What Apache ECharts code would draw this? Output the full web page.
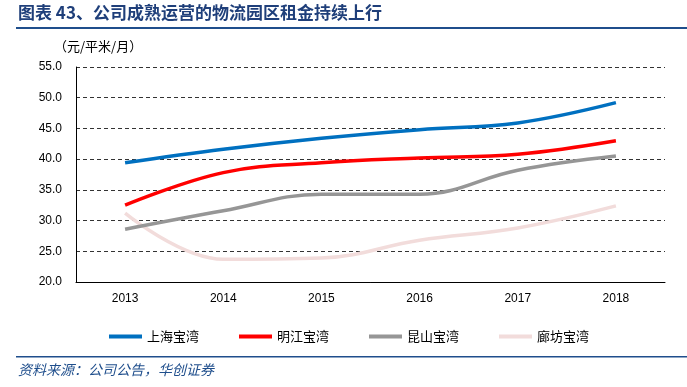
<!DOCTYPE html>
<html><head><meta charset="utf-8">
<script src="https://cdn.jsdelivr.net/npm/echarts@6/dist/echarts.min.js"></script>
<style>html,body{margin:0;padding:0;background:#fff}#c{width:687px;height:387px}</style>
</head><body><div id="c"></div>
<script>
var categories = ['2013','2014','2015','2016','2017','2018'];
var shanghai = [39.4, 41.6, 43.4, 44.8, 45.9, 49.2];
var mingjiang = [32.5, 37.8, 39.4, 40.2, 40.8, 43.0];
var kunshan = [28.6, 31.6, 34.3, 34.3, 38.2, 40.5];
var langfang = [31.2, 23.7, 23.9, 26.8, 28.8, 32.4];
var seriesNames = ['上海宝湾','明江宝湾','昆山宝湾','廊坊宝湾'];
var colors = ['#0070C0','#FF0000','#969696','#F2DCDB'];
var yTicks = {min:20, max:55, interval:5};

var chart = echarts.init(document.getElementById('c'));
var dataSets = [shanghai, mingjiang, kunshan, langfang];
chart.setOption({
  animation:false,
  textStyle:{fontFamily:'Liberation Sans, Arial, sans-serif'},
  grid:{left:76, right:22, top:67, bottom:105},
  legend:{
    left:104, top:325, itemWidth:33, itemHeight:4, itemGap:40,
    icon:'rect',
    textStyle:{fontFamily:'Noto Sans CJK SC', fontSize:13, color:'#000'},
    data:seriesNames
  },
  xAxis:{
    type:'category', data:categories, boundaryGap:true,
    axisLine:{lineStyle:{color:'#000', width:1}},
    axisTick:{show:false},
    axisLabel:{color:'#000', fontSize:12, margin:11}
  },
  yAxis:{
    type:'value', min:yTicks.min, max:yTicks.max, interval:yTicks.interval,
    axisLine:{show:true, lineStyle:{color:'#000', width:1}},
    axisTick:{show:false},
    axisLabel:{color:'#000', fontSize:12, margin:14, formatter:function(v){return v.toFixed(1);}},
    splitLine:{lineStyle:{color:'#333', type:[4,3], width:1}}
  },
  series: seriesNames.map(function(n,i){
    return {name:n, type:'line', data:dataSets[i], smooth:0.4, symbol:'none',
      lineStyle:{color:colors[i], width:3.5}, itemStyle:{color:colors[i]}, z:10-i};
  }),
  graphic:[
    {type:'text', left:18, top:4, style:{text:'图表 43、公司成熟运营的物流园区租金持续上行', fill:'#1F3F7A', font:'bold 17px "Noto Sans CJK SC"'}},
    {type:'rect', shape:{x:16, y:27, width:671, height:2}, style:{fill:'#1F4E8C'}},
    {type:'text', left:54, top:40, style:{text:'（元/平米/月）', fill:'#000', font:'13px "Noto Sans CJK SC"'}},
    {type:'rect', shape:{x:16, y:356, width:671, height:1.5}, style:{fill:'#1F4E8C'}},
    {type:'text', left:18, top:363, style:{text:'资料来源：公司公告，华创证券', fill:'#1F4E8C', font:'italic 14px "Noto Sans CJK SC"'}}
  ]
});
</script></body></html>
